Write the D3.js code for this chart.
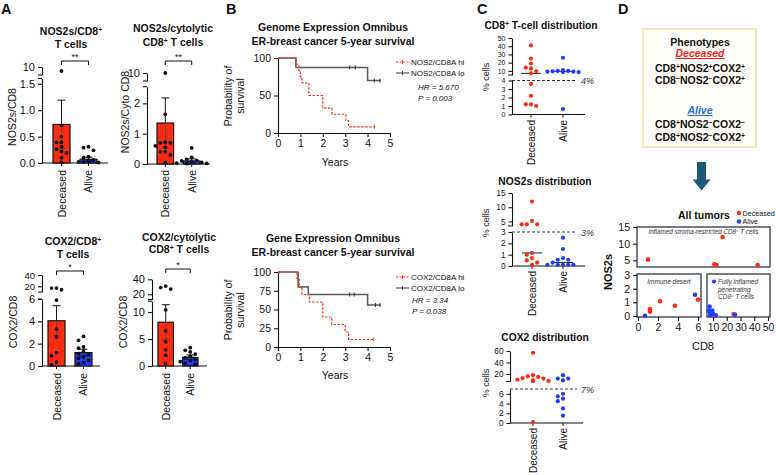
<!DOCTYPE html>
<html><head><meta charset="utf-8">
<script src="https://cdn.jsdelivr.net/npm/d3@7"></script>
<style>
body{margin:0;background:#fff;}
svg{display:block;}
</style></head><body>
<svg id="c" width="776" height="475"></svg>
<script>
// ================= DATA =================
const groups = ["Deceased", "Alive"];

// Panel A – bar charts (mean, SEM, individual values)
const nos2Mean = [0.73, 0.07];
const nos2Sem = [0.46, 0.04];
const nos2Deceased = [9, 0.71, 0.5, 0.39, 0.39, 0.31, 0.26, 0.22, 0.19, 0.1, 0.01];
const nos2Alive = [0.31, 0.29, 0.24, 0.12, 0.1, 0.06, 0.04, 0.02, 0.02, 0.01];

const nos2CytoMean = [1.35, 0.10];
const nos2CytoSem = [0.83, 0.07];
const nos2CytoDeceased = [10, 1.64, 0.72, 0.7, 0.7, 0.6, 0.55, 0.4, 0.4, 0.3, 0.05];
const nos2CytoAlive = [0.53, 0.22, 0.15, 0.12, 0.1, 0.08, 0.05, 0.03, 0.02, 0.01];

const cox2Mean = [4.05, 1.2];
const cox2Sem = [1.35, 0.3];
const cox2Deceased = [17, 17, 14, 5.9, 3.3, 2.6, 1.2, 0.9, 0.35, 0.1];
const cox2Alive = [2.65, 2.3, 1.7, 1.6, 1.3, 1.1, 1.0, 0.8, 0.7, 0.5, 0.3, 0.2];

const cox2CytoMean = [8.1, 1.6];
const cox2CytoSem = [3.25, 0.45];
const cox2CytoDeceased = [31, 29, 27, 10.4, 6.5, 4.5, 3.0, 2.0, 0.5];
const cox2CytoAlive = [3.4, 2.9, 2.6, 2.2, 1.8, 1.5, 1.2, 1.0, 0.8, 0.5, 0.3];

const sigNos2 = "**", sigNos2Cyto = "**", sigCox2 = "*", sigCox2Cyto = "*";

// Panel B – Kaplan–Meier steps (years, % survival)
const km1HiT = [0, 0.81, 0.93, 1.0, 1.07, 1.38, 2.0, 2.41, 3.03, 3.15, 4.3];
const km1HiS = [100, 91.7, 83.3, 75, 66.7, 50, 33.3, 25, 16.7, 8.3, 8.3];
const km1LoT = [0, 0.8, 4.0, 4.6];
const km1LoS = [100, 87.5, 70, 70];
const km1LoCensor = [3.2, 3.45, 4.3, 4.55];
const km1Legend = ["NOS2/CD8A hi", "NOS2/CD8A lo"];
const km1Stats = ["HR = 5.670", "P = 0.003"];

const km2HiT = [0, 0.85, 0.95, 1.07, 1.4, 2.0, 2.4, 3.0, 3.15, 4.25];
const km2HiS = [100, 90, 80, 70, 60, 40, 30, 20, 10, 10];
const km2LoT = [0, 0.9, 1.35, 4.0, 4.6];
const km2LoS = [100, 80, 70, 56, 56];
const km2LoCensor = [3.2, 3.4, 4.35, 4.55];
const km2Legend = ["COX2/CD8A hi", "COX2/CD8A lo"];
const km2Stats = ["HR = 3.34", "P = 0.038"];
const yearTicks = [0, 1, 2, 3, 4, 5];

// Panel C – distributions (% cells)
const cd8Deceased = [41, 25, 19, 14, 13, 9.5, 7, 3.6, 2.2, 1.2, 1.2, 1.0];
const cd8Alive = [26, 11, 10, 10, 9.5, 9, 9, 8.5, 8.5, 0.65];
const cd8Median = [7, 9.5];
const cd8Cut = 4;
const nos2dDeceased = [12, 5.2, 4, 4, 4, 1.15, 1.0, 0.7, 0.5, 0.3, 0.1];
const nos2dAlive = [2.5, 1.5, 0.7, 0.55, 0.55, 0.3, 0.1, 0.1, 0.1, 0.1, 0.1];
const nos2dMedian = [1.15, 0.3];
const nos2dCut = 3;
const cox2dDeceased = [57, 18, 16, 15, 13, 12, 10, 9, 8, 8, 8, 0.2];
const cox2dAlive = [18, 12, 12, 9, 6, 5.5, 5, 4.5, 3, 1.5];
const cox2dCut = 7;

// Panel D – all tumors scatter
const tumCD8 =  [1.0, 17, 11, 12.5, 42.5, 1.2, 1.2, 2.2, 3.7, 6.0, 25,  0.7, 5.7, 7.5, 7.0, 8.5, 9.5, 10, 12, 8.0, 26, 7.8];
const tumNOS2 = [5.2, 12, 3.8, 3.6, 3.6, 0.5, 0.32, 1.08, 0.75, 1.2, 0.15, 0.02, 1.55, 0.7, 0.4, 0.35, 0.4, 0.15, 0.05, 0.05, 0.08, 0.25];
const tumGroup = ["Deceased","Deceased","Deceased","Deceased","Deceased","Deceased","Deceased","Deceased","Deceased","Deceased","Deceased",
                  "Alive","Alive","Alive","Alive","Alive","Alive","Alive","Alive","Alive","Alive","Alive"];

// ================= DRAWING =================
const FONT = '"Liberation Sans", Arial, Helvetica, sans-serif';
const RED = "#ff2a12", BLUE = "#1f3cff", INK = "#111";
const svg = d3.select("#c").attr("font-family", FONT);

function rich(sel, str) {
  str.split(/(\^[+\-])/).forEach(tok => {
    if (!tok) return;
    if (tok[0] === "^") {
      sel.append("tspan").attr("baseline-shift", "super").attr("font-size", "65%")
        .text(tok[1] === "-" ? "\u2212" : "+");
    } else sel.append("tspan").text(tok);
  });
  return sel;
}
function txt(x, y, str, o = {}) {
  const t = svg.append("text").attr("x", x).attr("y", y)
    .attr("font-size", o.size || 11).attr("font-weight", o.bold ? "bold" : "normal")
    .attr("font-style", o.italic ? "italic" : "normal")
    .attr("text-anchor", o.anchor || "middle").attr("fill", o.fill || INK);
  if (o.rotate) t.attr("transform", `rotate(-90,${x},${y})`);
  if (o.deco) t.attr("text-decoration", o.deco);
  return rich(t, str);
}
function styleAxis(g, fs) {
  g.attr("font-family", FONT).attr("font-size", fs);
  g.selectAll("path,line").attr("stroke", INK).attr("stroke-width", 1.1);
  g.selectAll("text").attr("fill", INK);
}
// beeswarm-like deterministic placement
function swarm(vals, yf, cx, minD, step) {
  const placed = [];
  return vals.map(v => {
    const y = yf(v);
    const cands = [0, -step, step, -2 * step, 2 * step, -3 * step, 3 * step];
    let x = cx;
    for (const c of cands) {
      if (placed.every(p => Math.hypot(p[0] - (cx + c), p[1] - y) >= minD)) { x = cx + c; break; }
    }
    placed.push([x, y]);
    return [x, y];
  });
}

// ---------- Panel A ----------
function barChart(o) {
  const xb = d3.scaleBand().domain(groups).range(o.barRange).paddingInner(0.37);
  const yLo = d3.scaleLinear().domain(o.lo.domain).range(o.lo.range);
  const yHi = d3.scaleLinear().domain(o.hi.domain).range(o.hi.range);
  const y = v => v <= o.lo.domain[1] ? yLo(v) : yHi(v);
  const g = svg.append("g");
  const a1 = g.append("g").attr("transform", `translate(${o.ax},0)`)
    .call(d3.axisLeft(yLo).tickValues(o.lo.ticks).tickSize(4).tickSizeOuter(0).tickFormat(d3.format(o.lo.fmt)));
  styleAxis(a1, 11);
  const a2 = g.append("g").attr("transform", `translate(${o.ax},0)`)
    .call(d3.axisLeft(yHi).tickValues(o.hi.ticks).tickSize(4).tickSizeOuter(0).tickFormat(d3.format("d")));
  styleAxis(a2, o.hi.fs || 11);
  g.append("line").attr("x1", o.ax - 4).attr("x2", o.ax).attr("y1", yHi.range()[0]).attr("y2", yHi.range()[0]).attr("stroke", INK).attr("stroke-width", 1.1);
  g.append("line").attr("x1", o.ax - 4).attr("x2", o.ax).attr("y1", yLo.range()[1]).attr("y2", yLo.range()[1]).attr("stroke", INK).attr("stroke-width", 1.1);
  g.append("line").attr("x1", o.ax).attr("x2", o.axEnd).attr("y1", yLo(0)).attr("y2", yLo(0)).attr("stroke", INK).attr("stroke-width", 1.2);
  groups.forEach((grp, i) => {
    const x0 = xb(grp), bw = xb.bandwidth(), cx = x0 + bw / 2;
    g.append("line").attr("x1", cx).attr("x2", cx).attr("y1", yLo(0)).attr("y2", yLo(0) + 3).attr("stroke", INK);
    g.append("rect").attr("x", x0).attr("y", y(o.mean[i])).attr("width", bw).attr("height", yLo(0) - y(o.mean[i]))
      .attr("fill", i === 0 ? RED : BLUE).attr("stroke", INK).attr("stroke-width", 1.2);
    const lo = o.mean[i] - o.sem[i], hi = o.mean[i] + o.sem[i];
    g.append("line").attr("x1", cx).attr("x2", cx).attr("y1", y(lo)).attr("y2", y(o.mean[i])).attr("stroke", "#7a3a30").attr("stroke-width", 1);
    g.append("line").attr("x1", cx).attr("x2", cx).attr("y1", y(o.mean[i])).attr("y2", y(hi)).attr("stroke", INK).attr("stroke-width", 1);
    g.append("line").attr("x1", cx - 4).attr("x2", cx + 4).attr("y1", y(hi)).attr("y2", y(hi)).attr("stroke", INK).attr("stroke-width", 1);
    g.append("line").attr("x1", cx - 4).attr("x2", cx + 4).attr("y1", y(lo)).attr("y2", y(lo)).attr("stroke", i === 0 ? "#7a3a30" : INK).attr("stroke-width", 1);
    const pts = swarm(o.dots[i], y, cx, 4.2, 5);
    g.selectAll(null).data(pts).enter().append("circle").attr("cx", d => d[0]).attr("cy", d => d[1]).attr("r", 1.9).attr("fill", INK);
    txt(cx + 4, o.labelTop, grp, { rotate: true, anchor: "end", size: 10.5 });
  });
  const c1 = xb(groups[0]) + xb.bandwidth() / 2, c2 = xb(groups[1]) + xb.bandwidth() / 2;
  g.append("path").attr("d", `M${c1},${o.sigY + 4}V${o.sigY}H${c2}V${o.sigY + 4}`).attr("fill", "none").attr("stroke", INK).attr("stroke-width", 1);
  txt((c1 + c2) / 2, o.sigY - 1, o.sig, { size: 9 });
  o.title.forEach((t, k) => txt(o.titleX, o.titleY[k], t, { bold: true, size: 10.5 }));
  txt(o.ylab[0], o.ylab[1], o.ylab[2], { rotate: true, size: 10.5 });
}

barChart({ barRange: [53, 97], ax: 42, axEnd: 108,
  lo: { domain: [0, 1.6], range: [163, 78.5], ticks: [0, 0.5, 1, 1.5], fmt: ".1f" },
  hi: { domain: [8, 10], range: [75, 67], ticks: [10] },
  mean: nos2Mean, sem: nos2Sem, dots: [nos2Deceased, nos2Alive], sig: sigNos2, sigY: 61,
  title: ["NOS2s/CD8^+", "T cells"], titleX: 71, titleY: [35, 48], ylab: [16, 117, "NOS2s/CD8"], labelTop: 170 });
barChart({ barRange: [157, 200], ax: 147, axEnd: 210,
  lo: { domain: [0, 2.55], range: [164, 86.7], ticks: [0, 1, 2], fmt: "d" },
  hi: { domain: [8, 10], range: [81, 73], ticks: [10] },
  mean: nos2CytoMean, sem: nos2CytoSem, dots: [nos2CytoDeceased, nos2CytoAlive], sig: sigNos2Cyto, sigY: 61,
  title: ["NOS2s/cytolytic", "CD8^+ T cells"], titleX: 173, titleY: [32, 46], ylab: [129, 112, "NOS2s/Cyto CD8"], labelTop: 170 });
barChart({ barRange: [48, 92], ax: 42, axEnd: 100,
  lo: { domain: [0, 6], range: [366, 299], ticks: [0, 2, 4, 6], fmt: "d" },
  hi: { domain: [10, 40], range: [292, 275], ticks: [20, 40], fs: 9.5 },
  mean: cox2Mean, sem: cox2Sem, dots: [cox2Deceased, cox2Alive], sig: sigCox2, sigY: 271,
  title: ["COX2/CD8^+", "T cells"], titleX: 73, titleY: [245, 258], ylab: [17, 322, "COX2/CD8"], labelTop: 373 });
barChart({ barRange: [158, 198], ax: 152, axEnd: 207,
  lo: { domain: [0, 12], range: [366, 301.2], ticks: [0, 5, 10], fmt: "d" },
  hi: { domain: [13, 40], range: [299.5, 279.3], ticks: [20, 40] },
  mean: cox2CytoMean, sem: cox2CytoSem, dots: [cox2CytoDeceased, cox2CytoAlive], sig: sigCox2Cyto, sigY: 269,
  title: ["COX2/cytolytic", "CD8^+ T cells"], titleX: 179, titleY: [241, 253], ylab: [127, 322, "COX2/CD8"], labelTop: 373 });

// ---------- Panel B ----------
function kmPlot(o) {
  const x = d3.scaleLinear().domain([0, 5]).range([278, 390]);
  const y = d3.scaleLinear().domain([0, 100]).range(o.yRange);
  const g = svg.append("g");
  const ax = g.append("g").attr("transform", `translate(0,${y(0)})`)
    .call(d3.axisBottom(x).tickValues(yearTicks).tickSize(4).tickSizeOuter(0).tickFormat(d3.format("d")));
  styleAxis(ax, 10.5);
  const ay = g.append("g").attr("transform", `translate(${x(0)},0)`)
    .call(d3.axisLeft(y).tickValues(o.yTicks).tickSize(4).tickSizeOuter(0).tickFormat(d3.format("d")));
  styleAxis(ay, 10.5);
  const line = d3.line().x(d => x(d[0])).y(d => y(d[1])).curve(d3.curveStepAfter);
  g.append("path").attr("d", line(d3.zip(o.loT, o.loS))).attr("fill", "none").attr("stroke", "#5a5a5a").attr("stroke-width", 1.5);
  g.append("path").attr("d", line(d3.zip(o.hiT, o.hiS))).attr("fill", "none").attr("stroke", "#ff2a12").attr("stroke-width", 1.2).attr("stroke-dasharray", "2.5,1.5");
  const lastLo = t => o.loS[d3.bisectRight(o.loT, t) - 1];
  o.loC.forEach(t => g.append("line").attr("x1", x(t)).attr("x2", x(t)).attr("y1", y(lastLo(t)) - 2).attr("y2", y(lastLo(t)) + 2).attr("stroke", "#333"));
  const hEnd = o.hiT[o.hiT.length - 1], sEnd = o.hiS[o.hiS.length - 1];
  g.append("line").attr("x1", x(hEnd)).attr("x2", x(hEnd)).attr("y1", y(sEnd) - 2).attr("y2", y(sEnd) + 2).attr("stroke", "#ff2a12");
  o.title.forEach((t, k) => txt(333, o.titleY[k], t, { bold: true, size: 10.5 }));
  txt(232, o.yMid, "Probability of", { rotate: true, size: 10.5 });
  txt(244, o.yMid, "survival", { rotate: true, size: 10.5 });
  txt(335, o.yearsY, "Years", { size: 10.5 });
  const lg = o.legY;
  g.append("line").attr("x1", 396).attr("x2", 409).attr("y1", lg[0] - 3).attr("y2", lg[0] - 3).attr("stroke", "#ff2a12").attr("stroke-dasharray", "2,1.5");
  g.append("line").attr("x1", 402.5).attr("x2", 402.5).attr("y1", lg[0] - 5).attr("y2", lg[0] - 1).attr("stroke", "#ff2a12");
  g.append("line").attr("x1", 396).attr("x2", 409).attr("y1", lg[1] - 3).attr("y2", lg[1] - 3).attr("stroke", "#444").attr("stroke-width", 1.1);
  g.append("line").attr("x1", 402.5).attr("x2", 402.5).attr("y1", lg[1] - 5).attr("y2", lg[1] - 1).attr("stroke", "#444");
  txt(411, lg[0], o.legend[0], { anchor: "start", size: 8 });
  txt(411, lg[1], o.legend[1], { anchor: "start", size: 8 });
  txt(o.statX, lg[2], o.stats[0], { anchor: "start", size: 8, italic: true });
  txt(o.statX, lg[3], o.stats[1], { anchor: "start", size: 8, italic: true });
}
kmPlot({ yRange: [133, 58], yTicks: [0, 50, 100], hiT: km1HiT, hiS: km1HiS, loT: km1LoT, loS: km1LoS, loC: km1LoCensor,
  title: ["Genome Expression Omnibus", "ER-breast cancer 5-year survival"], titleY: [30.5, 44.5], yMid: 96, yearsY: 166,
  legY: [65, 76, 90, 101], legend: km1Legend, stats: km1Stats, statX: 418 });
kmPlot({ yRange: [347, 272], yTicks: [0, 25, 50, 75, 100], hiT: km2HiT, hiS: km2HiS, loT: km2LoT, loS: km2LoS, loC: km2LoCensor,
  title: ["Gene Expression Omnibus", "ER-breast cancer 5-year survival"], titleY: [242, 255.5], yMid: 310, yearsY: 379,
  legY: [280, 291, 303, 314], legend: km2Legend, stats: km2Stats, statX: 412 });

// ---------- Panel C ----------
function distPlot(o) {
  const xp = d3.scalePoint().domain(groups).range(o.xRange);
  const yLo = d3.scaleLinear().domain(o.lo.domain).range(o.lo.range);
  const yHi = d3.scaleLinear().domain(o.hi.domain).range(o.hi.range);
  const y = v => v <= o.lo.domain[1] ? yLo(v) : yHi(v);
  const g = svg.append("g");
  const a1 = g.append("g").attr("transform", `translate(${o.ax},0)`)
    .call(d3.axisLeft(yLo).tickValues(o.lo.ticks).tickSize(3.5).tickSizeOuter(0).tickFormat(d3.format("d")));
  styleAxis(a1, o.fs);
  const a2 = g.append("g").attr("transform", `translate(${o.ax},0)`)
    .call(d3.axisLeft(yHi).tickValues(o.hi.ticks).tickSize(3.5).tickSizeOuter(0).tickFormat(d3.format("d")));
  styleAxis(a2, o.fs);
  g.append("line").attr("x1", o.ax - 4).attr("x2", o.ax).attr("y1", yHi.range()[0]).attr("y2", yHi.range()[0]).attr("stroke", INK);
  g.append("line").attr("x1", o.ax).attr("x2", o.axEnd).attr("y1", yLo(0)).attr("y2", yLo(0)).attr("stroke", INK).attr("stroke-width", 1.1);
  g.append("line").attr("x1", o.ax).attr("x2", 577).attr("y1", yLo(o.cut)).attr("y2", yLo(o.cut)).attr("stroke", "#333").attr("stroke-dasharray", "3,2");
  txt(581, yLo(o.cut) + 3.5, o.cut + "%", { anchor: "start", size: 9, italic: true, fill: "#333" });
  groups.forEach((grp, i) => {
    const cx = xp(grp);
    g.append("line").attr("x1", cx).attr("x2", cx).attr("y1", yLo(0)).attr("y2", yLo(0) + 3).attr("stroke", INK);
    if (o.median) g.append("line").attr("x1", cx - 10).attr("x2", cx + 10).attr("y1", y(o.median[i])).attr("y2", y(o.median[i])).attr("stroke", "#222").attr("stroke-width", 1);
    const pts = swarm(o.vals[i], y, cx, 4.8, 5.2);
    g.selectAll(null).data(pts).enter().append("circle").attr("cx", d => d[0]).attr("cy", d => d[1]).attr("r", 2.1).attr("fill", i === 0 ? RED : BLUE);
    txt(cx + 3.5, o.labelTop, grp, { rotate: true, anchor: "end", size: 10 });
  });
  txt(o.titleX, o.titleY, o.title, { bold: true, size: 10.3 });
  txt(489, o.ymid, "% cells", { rotate: true, size: 9 });
}
distPlot({ xRange: [531, 563], ax: 512, axEnd: 585, cut: cd8Cut, median: cd8Median, fs: 7,
  lo: { domain: [0, 4], range: [114.5, 80.5], ticks: [0, 1, 2, 3, 4] },
  hi: { domain: [5, 50], range: [75, 38], ticks: [10, 20, 30, 40, 50] },
  vals: [cd8Deceased, cd8Alive], labelTop: 120, title: "CD8^+ T-cell distribution", titleX: 541, titleY: 29, ymid: 77 });
distPlot({ xRange: [532, 563], ax: 512, axEnd: 585, cut: nos2dCut, median: nos2dMedian, fs: 8.3,
  lo: { domain: [0, 3], range: [266, 232], ticks: [0, 1, 2, 3] },
  hi: { domain: [3.4, 15], range: [226, 193], ticks: [5, 10, 15] },
  vals: [nos2dDeceased, nos2dAlive], labelTop: 271, title: "NOS2s distribution", titleX: 545, titleY: 185, ymid: 223 });
distPlot({ xRange: [533, 563], ax: 510, axEnd: 583, cut: cox2dCut, median: null, fs: 8.3,
  lo: { domain: [0, 7], range: [423, 389], ticks: [0, 2, 4, 6] },
  hi: { domain: [7, 60], range: [381.5, 351], ticks: [20, 40, 60] },
  vals: [cox2dDeceased, cox2dAlive], labelTop: 428, title: "COX2 distribution", titleX: 545, titleY: 340.5, ymid: 383 });

// ---------- Panel D ----------
svg.append("rect").attr("x", 643).attr("y", 29).attr("width", 113).attr("height", 118)
  .attr("fill", "#fffef9").attr("stroke", "#f2d98e").attr("stroke-width", 1.3);
txt(700, 45.5, "Phenotypes", { bold: true, size: 10.5 });
txt(700, 57, "Deceased", { bold: true, italic: true, size: 10.5, fill: "#ff1a1a", deco: "underline" });
txt(700, 71.5, "CD8^+NOS2^+COX2^+", { bold: true, size: 10.5 });
txt(700, 84, "CD8^-NOS2^-COX2^+", { bold: true, size: 10.5 });
txt(700, 114, "Alive", { bold: true, italic: true, size: 10.5, fill: "#1f6fd1", deco: "underline" });
txt(700, 128, "CD8^+NOS2^-COX2^-", { bold: true, size: 10.5 });
txt(700, 140.5, "CD8^+NOS2^-COX2^+", { bold: true, size: 10.5 });
svg.append("path").attr("d", "M697,162H706V179.5H710.5L701.5,190.5L692.5,179.5H697Z").attr("fill", "#1d5a78");

(function scatter() {
  const xL = d3.scaleLinear().domain([0, 6]).range([638, 698]);
  const xR = d3.scaleLinear().domain([6, 50]).range([707.5, 768]);
  const yU = d3.scaleLinear().domain([3, 15]).range([267, 227]);
  const yL = d3.scaleLinear().domain([0, 3]).range([316, 275]);
  const px = v => v <= 6.2 ? xL(v) : xR(v);
  const py = v => v <= 3 ? yL(v) : yU(v);
  const g = svg.append("g");
  const box = (x1, y1, x2, y2) => g.append("rect").attr("x", x1).attr("y", y1).attr("width", x2 - x1).attr("height", y2 - y1)
    .attr("fill", "none").attr("stroke", "#2b3845").attr("stroke-width", 1.3);
  box(637, 227, 770, 267);
  box(637, 274, 701, 317);
  box(707, 274, 770, 317);
  const fmt = d3.format("d");
  const ay1 = g.append("g").attr("transform", "translate(637,0)").call(d3.axisLeft(yU).tickValues([5, 10, 15]).tickSize(4).tickSizeOuter(0).tickFormat(fmt));
  styleAxis(ay1, 10.5); ay1.select(".domain").remove();
  const ay2 = g.append("g").attr("transform", "translate(637,0)").call(d3.axisLeft(yL).tickValues([0, 1, 2, 3]).tickSize(4).tickSizeOuter(0).tickFormat(fmt));
  styleAxis(ay2, 10.5); ay2.select(".domain").remove();
  const ax1 = g.append("g").attr("transform", "translate(0,317)").call(d3.axisBottom(xL).tickValues([0, 2, 4, 6]).tickSize(4).tickSizeOuter(0).tickFormat(fmt));
  styleAxis(ax1, 10.5); ax1.select(".domain").remove();
  const ax2 = g.append("g").attr("transform", "translate(0,317)").call(d3.axisBottom(xR).tickValues([10, 20, 30, 40, 50]).tickSize(4).tickSizeOuter(0).tickFormat(fmt));
  styleAxis(ax2, 10.5); ax2.select(".domain").remove();
  const pts = d3.range(tumCD8.length).map(i => [tumCD8[i], tumNOS2[i], tumGroup[i]]);
  g.selectAll(null).data(pts).enter().append("circle").attr("cx", d => px(d[0])).attr("cy", d => py(d[1])).attr("r", 2.3)
    .attr("fill", d => d[2] === "Deceased" ? RED : BLUE);
  txt(703.5, 233.5, "Inflamed stroma-restricted CD8^+ T cells", { italic: true, size: 6.3, fill: "#333" });
  txt(669, 284, "Immune desert", { italic: true, size: 6.5, fill: "#333" });
  g.append("circle").attr("cx", 714).attr("cy", 281.5).attr("r", 2.1).attr("fill", BLUE);
  txt(718, 284, "Fully inflamed", { italic: true, size: 6.5, anchor: "start", fill: "#333" });
  txt(718, 291.5, "penetrating", { italic: true, size: 6.5, anchor: "start", fill: "#333" });
  txt(718, 299, "CD8^+ T cells", { italic: true, size: 6.5, anchor: "start", fill: "#333" });
  txt(703, 350, "CD8", { size: 11 });
  txt(612, 272, "NOS2s", { rotate: true, bold: true, size: 11 });
  txt(678, 219, "All tumors", { bold: true, size: 10.5, anchor: "start" });
  g.append("circle").attr("cx", 739).attr("cy", 213).attr("r", 2.2).attr("fill", RED);
  g.append("circle").attr("cx", 739).attr("cy", 221.5).attr("r", 2.2).attr("fill", BLUE);
  txt(742.5, 215.5, "Deceased", { anchor: "start", size: 7.2 });
  txt(742.5, 224, "Alive", { anchor: "start", size: 7.2 });
})();

// panel letters
txt(1, 14, "A", { bold: true, size: 14.5, anchor: "start" });
txt(226, 14, "B", { bold: true, size: 14.5, anchor: "start" });
txt(477, 14, "C", { bold: true, size: 14.5, anchor: "start" });
txt(618, 14, "D", { bold: true, size: 14.5, anchor: "start" });
</script>
</body></html>
